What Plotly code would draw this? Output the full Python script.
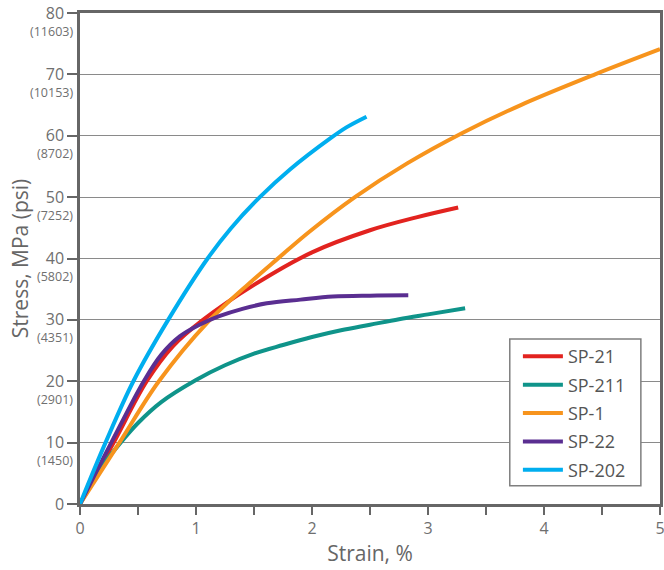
import plotly.graph_objects as go

# ---- data ----
series_names = ["SP-21", "SP-211", "SP-1", "SP-22", "SP-202"]
series_colors = ["#e2231f", "#0f948a", "#f7941d", "#5a2e91", "#00aeef"]

sp21_strain = [0, 0.29, 0.575, 0.8, 1.06, 1.5, 2.0, 2.5, 2.9, 3.26]
sp21_stress = [0, 10, 20, 25.7, 30, 35.7, 41.0, 44.6, 46.7, 48.3]

sp211_strain = [0, 0.1, 0.2, 0.35, 0.5, 0.7, 1.0, 1.25, 1.5, 1.75, 2.0, 2.25, 2.5, 2.75, 3.0, 3.32]
sp211_stress = [0, 3.3, 6.4, 10, 13.2, 16.6, 20.2, 22.6, 24.5, 25.9, 27.2, 28.3, 29.2, 30.1, 30.9, 31.9]

sp1_strain = [0, 0.34, 0.68, 1.1, 1.48, 1.70, 1.98, 2.37, 2.82, 3.30, 3.8, 4.44, 5.0]
sp1_stress = [0, 10, 20, 29.6, 36.3, 39.9, 44.4, 50.0, 55.5, 60.5, 65.0, 70, 74.1]

sp22_strain = [0, 0.27, 0.55, 0.7, 0.86, 1.03, 1.2, 1.4, 1.61, 1.9, 2.18, 2.5, 2.83]
sp22_stress = [0, 10, 20, 24.3, 27.3, 29.2, 30.6, 31.8, 32.7, 33.3, 33.8, 33.95, 34.0]

sp202_strain = [0, 0.22, 0.46, 0.76, 1.1, 1.3, 1.55, 1.81, 2.16, 2.3, 2.47]
sp202_stress = [0, 10, 20, 30, 40, 44.9, 50, 54.5, 59.6, 61.4, 63.1]

x_tick_vals = [0, 0.5, 1, 1.5, 2, 2.5, 3, 3.5, 4, 4.5, 5]
x_tick_text = ["0", "", "1", "", "2", "", "3", "", "4", "", "5"]

y_tick_vals = [0, 10, 20, 30, 40, 50, 60, 70, 80]
y_tick_text = ["0", "10", "20", "30", "40", "50", "60", "70", "80"]
psi_text = ["", "(1450)", "(2901)", "(4351)", "(5802)", "(7252)", "(8702)", "(10153)", "(11603)"]

x_title = "Strain, %"
y_title = "Stress, MPa (psi)"

# ---- figure ----
FONT = "Open Sans"
AXIS_C = "#666666"
GRID_C = "#8a8a8a"
TEXT_C = "#6f6f6f"

all_x = [sp21_strain, sp211_strain, sp1_strain, sp22_strain, sp202_strain]
all_y = [sp21_stress, sp211_stress, sp1_stress, sp22_stress, sp202_stress]

fig = go.Figure()
for name, color, xs, ys in zip(series_names, series_colors, all_x, all_y):
    fig.add_trace(go.Scatter(
        x=xs, y=ys, name=name, legendgroup=name, mode="lines",
        line=dict(color=color, width=4, shape="spline", smoothing=1.0),
    ))

for v, t in zip(y_tick_vals, psi_text):
    if t:
        fig.add_annotation(
            x=0, xref="paper", y=v, yref="y", text=t, showarrow=False,
            xanchor="right", yanchor="middle", xshift=-5, yshift=-18,
            font=dict(family=FONT, size=12.5, color=TEXT_C),
        )

# legend frame
fig.add_shape(
    type="rect", xref="paper", yref="paper",
    x0=0.741, x1=0.967, y0=0.037, y1=0.336,
    line=dict(color="#7f7f7f", width=1.5), fillcolor="white", layer="above",
)

fig.update_layout(
    width=664, height=570,
    margin=dict(l=80, r=4, t=13, b=66, autoexpand=False),
    paper_bgcolor="white", plot_bgcolor="white",
    font=dict(family=FONT, color=TEXT_C),
    showlegend=True,
    legend=dict(
        x=0.755, y=0.338, xanchor="left", yanchor="top",
        bgcolor="rgba(0,0,0,0)", borderwidth=0,
        font=dict(family=FONT, size=18, color="#555555"),
        tracegroupgap=2, itemwidth=40, traceorder="grouped",
    ),
)

fig.update_xaxes(
    range=[0, 5], tickvals=x_tick_vals, ticktext=x_tick_text,
    ticks="outside", ticklen=8, tickwidth=1.5, tickcolor=AXIS_C,
    showline=True, linecolor=AXIS_C, linewidth=2.5, mirror=True,
    showgrid=False, zeroline=False, automargin=False, ticklabeloverflow="allow",
    tickfont=dict(family=FONT, size=16, color=TEXT_C),
    title=dict(text=x_title, font=dict(family=FONT, size=21, color="#666666"), standoff=9),
)
fig.update_yaxes(
    range=[0, 80], tickvals=y_tick_vals, ticktext=y_tick_text,
    ticks="outside", ticklen=10, tickwidth=1.5, tickcolor=AXIS_C,
    showline=True, linecolor=AXIS_C, linewidth=2.5, mirror=True,
    showgrid=True, gridcolor=GRID_C, gridwidth=1.3, zeroline=False, automargin=False,
    ticklabeloverflow="allow",
    tickfont=dict(family=FONT, size=16, color=TEXT_C),
    title=dict(text=y_title, font=dict(family=FONT, size=21, color="#666666"), standoff=12),
)

fig.write_html("out.html", config={"displayModeBar": False},
               post_script="document.body.style.margin='0';")
